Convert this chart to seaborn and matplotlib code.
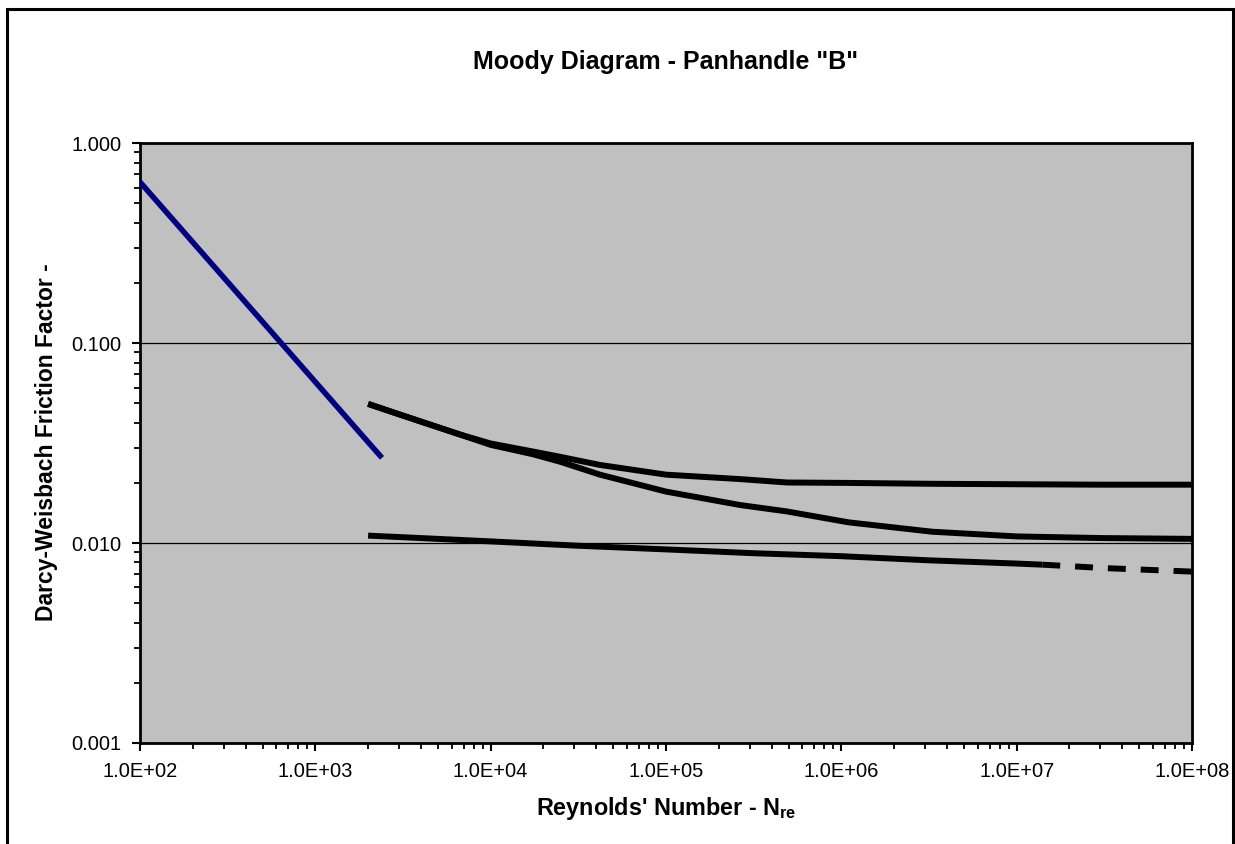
import numpy as np
import pandas as pd
import matplotlib
matplotlib.use("Agg")
import matplotlib.pyplot as plt
import seaborn as sns
from matplotlib.patches import Rectangle
from matplotlib.ticker import LogLocator, FixedLocator, NullFormatter

# ---- data ----
re_lam = [100, 200, 500, 1000, 2000, 2400]
f_lam = [0.640, 0.320, 0.128, 0.064, 0.032, 0.0267]

re_turb = [2000, 2800, 4300, 6700, 1.0e4, 1.75e4, 2.5e4, 4.2e4, 1.0e5, 2.65e5,
           4.9e5, 1.1e6, 3.3e6, 1.0e7, 3.0e7, 1.0e8]
f_rough = [0.0497, 0.0450, 0.0397, 0.0349, 0.0315, 0.0287, 0.0270, 0.0246, 0.0220,
           0.0209, 0.0201, 0.0200, 0.0198, 0.0197, 0.0196, 0.0196]
f_smooth = [0.0497, 0.0450, 0.0397, 0.0349, 0.0310, 0.0278, 0.0255, 0.0220, 0.0181,
            0.0155, 0.0144, 0.0127, 0.0114, 0.0108, 0.0106, 0.0105]

re_pan = [2000, 3162, 1.0e4, 3.16e4, 1.0e5, 3.16e5, 1.0e6, 3.16e6, 1.0e7, 1.4e7]
f_pan = [0.0109, 0.0107, 0.0102, 0.0097, 0.0093, 0.0089, 0.0086, 0.0082, 0.0079, 0.0078]
re_pan_tail = [1.4e7, 3.16e7, 1.0e8]
f_pan_tail = [0.0078, 0.0075, 0.0072]

title = 'Moody Diagram - Panhandle "B"'
xlabel = "Reynolds' Number - N$_{\\mathbf{re}}$"
ylabel = "Darcy-Weisbach Friction Factor -"
xticks = [1e2, 1e3, 1e4, 1e5, 1e6, 1e7, 1e8]
xticklabels = ["1.0E+02", "1.0E+03", "1.0E+04", "1.0E+05", "1.0E+06", "1.0E+07", "1.0E+08"]
yticks = [0.001, 0.01, 0.1, 1.0]
yticklabels = ["0.001", "0.010", "0.100", "1.000"]

# ---- style ----
sns.set_style("white")
plt.rcParams["font.family"] = ["Liberation Sans", "DejaVu Sans"]
plt.rcParams["mathtext.fontset"] = "custom"
plt.rcParams["mathtext.rm"] = "Liberation Sans"
plt.rcParams["mathtext.bf"] = "Liberation Sans:bold"
plt.rcParams["text.color"] = "black"
plt.rcParams["axes.labelcolor"] = "black"
plt.rcParams["xtick.color"] = "black"
plt.rcParams["ytick.color"] = "black"

W, H = 1235, 844
fig = plt.figure(figsize=(W / 100, H / 100), dpi=100)
fig.patch.set_facecolor("white")
L, R, T, B = 140, 1192, 143.3, 743
ax = fig.add_axes([L / W, 1 - B / H, (R - L) / W, (B - T) / H])
ax.set_facecolor("#c0c0c0")

# outer chart-area frame
fig.patches.append(Rectangle((7 / W, -0.05), (1233 - 7) / W, 1 - 9 / H + 0.05,
                             transform=fig.transFigure, fill=False,
                             edgecolor="black", linewidth=2.2, zorder=0))

df_lam = pd.DataFrame({"Re": re_lam, "f": f_lam})
df_r = pd.DataFrame({"Re": re_turb, "f": f_rough})
df_s = pd.DataFrame({"Re": re_turb, "f": f_smooth})
df_p = pd.DataFrame({"Re": re_pan, "f": f_pan})
df_pt = pd.DataFrame({"Re": re_pan_tail, "f": f_pan_tail})

ax.set_xscale("log")
ax.set_yscale("log")

sns.lineplot(data=df_lam, x="Re", y="f", ax=ax, color="#000080", linewidth=4.0,
             sort=False, estimator=None, solid_capstyle="butt", zorder=3)
sns.lineplot(data=df_r, x="Re", y="f", ax=ax, color="black", linewidth=4.3,
             sort=False, estimator=None, solid_capstyle="butt", zorder=3)
sns.lineplot(data=df_s, x="Re", y="f", ax=ax, color="black", linewidth=4.3,
             sort=False, estimator=None, solid_capstyle="butt", zorder=3)
sns.lineplot(data=df_p, x="Re", y="f", ax=ax, color="black", linewidth=4.3,
             sort=False, estimator=None, solid_capstyle="butt", zorder=3)
sns.lineplot(data=df_pt, x="Re", y="f", ax=ax, color="black", linewidth=4.3,
             sort=False, estimator=None, zorder=3)
ax.lines[-1].set_dashes([3, 2.5])
ax.lines[-1].set_dash_capstyle("butt")

ax.set_xlim(1e2, 1e8)
ax.set_ylim(1e-3, 1.0)

ax.xaxis.set_major_locator(FixedLocator(xticks))
ax.set_xticklabels(xticklabels)
ax.yaxis.set_major_locator(FixedLocator(yticks))
ax.set_yticklabels(yticklabels)
ax.xaxis.set_minor_locator(LogLocator(base=10, subs=np.arange(2, 10)))
ax.yaxis.set_minor_locator(LogLocator(base=10, subs=np.arange(2, 10)))
ax.xaxis.set_minor_formatter(NullFormatter())
ax.yaxis.set_minor_formatter(NullFormatter())

ax.tick_params(axis="both", which="major", direction="out", length=5.5, width=1.5,
               color="black", labelsize=14.5, labelcolor="black",
               bottom=True, left=True)
ax.tick_params(axis="both", which="minor", direction="out", length=4, width=1.3,
               color="black", bottom=True, left=True)
ax.tick_params(axis="x", which="major", pad=8)
ax.tick_params(axis="y", which="major", pad=8)

ax.grid(True, which="major", axis="y", color="black", linewidth=0.9)
ax.grid(False, which="major", axis="x")
ax.set_axisbelow(True)

for s in ax.spines.values():
    s.set_visible(True)
    s.set_color("black")
    s.set_linewidth(2.0)

ax.set_xlabel("")
ax.set_ylabel("")
fig.text((L + R) / 2 / W, 1 - 62 / H, title, ha="center", va="center",
         fontsize=18, fontweight="bold", color="black")
fig.text((L + R) / 2 / W, 1 - 808 / H, xlabel, ha="center", va="center",
         fontsize=16.8, fontweight="bold", color="black")
fig.text(46 / W, 1 - 442 / H, ylabel, ha="center", va="center",
         rotation=90, fontsize=16.5, fontweight="bold", color="black")

fig.savefig("out.png", dpi=100, facecolor="white")
